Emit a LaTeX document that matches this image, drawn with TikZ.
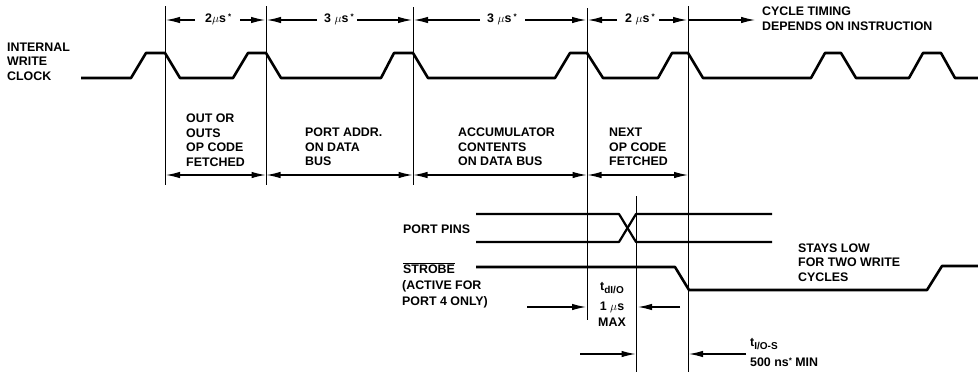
\documentclass[tikz,border=0pt]{standalone}
\usepackage{fontspec}
\setmainfont{Liberation Sans}
\usetikzlibrary{arrows.meta}
\tikzset{
 x=1pt,y=-1pt,
 wave/.style={line width=2.6pt,line join=round},
 vline/.style={line width=1pt},
 dim/.style={line width=1.1pt,-{Latex[length=14pt,width=6.5pt]}},
 dimb/.style={line width=1.1pt,{Latex[length=14pt,width=6.5pt]}-{Latex[length=14pt,width=6.5pt]}},
 lab/.style={font=\fontsize{12.4}{14.5}\selectfont\bfseries,anchor=west,align=left,inner sep=0pt},
}
\newcommand{\mus}{{\normalfont$\mu$}s}
\newcommand{\astr}{\raisebox{3pt}{\fontsize{8}{8}\selectfont *}}
\newcommand{\tsub}[1]{t\raisebox{-2.5pt}{\fontsize{10}{10}\selectfont #1}}
\begin{document}
\begin{tikzpicture}
\useasboundingbox (0,0) rectangle (978,372);
\coordinate (t1) at (165.5,6); \coordinate (b1) at (165.5,185);
\coordinate (t2) at (266,6); \coordinate (b2) at (266,185);
\coordinate (t3) at (413,7); \coordinate (b3) at (413,185);
\coordinate (t4) at (587,8); \coordinate (b4) at (587,320);
\coordinate (t5) at (688,6); \coordinate (b5) at (688,372);
\coordinate (t6) at (636,196); \coordinate (b6) at (636,372);
\foreach \i in {1,...,6} \draw[vline] (t\i) -- (b\i);
% clock
\draw[wave] (81,78) -- (131,78) -- (146,53) -- (165,53) -- (180,78) -- (233,78) -- (248,53) -- (266,53) -- (281,78) -- (381,78) -- (394,53) -- (413,53) -- (428,78) -- (555,78) -- (570,53) -- (587,53) -- (603,78) -- (658,78) -- (672,53) -- (688,53) -- (703,78) -- (811,78) -- (825,53) -- (841,53) -- (856,78) -- (909,78) -- (923,53) -- (941,53) -- (955,78) -- (978,78);
\node[lab] (int) at (7,61.5) {INTERNAL\\WRITE\\CLOCK};
% top dims
\node[lab] (a1) at (205,19.5) {2\mus\,\astr};
\node[lab] (a2) at (324,19.5) {3 \mus\,\astr};
\node[lab] (a3) at (487,19.5) {3 \mus\,\astr};
\node[lab] (a4) at (625,19.5) {2 \mus\,\astr};
\coordinate (l1) at (195,20); \coordinate (r1) at (240,20);
\coordinate (l2) at (317,20); \coordinate (r2) at (357,20);
\coordinate (l3) at (480,20); \coordinate (r3) at (525,20);
\coordinate (l4) at (617,20); \coordinate (r4) at (659,20);
\draw[dim] (l1) -- (166,20);
\draw[dim] (r1) -- (265,20);
\draw[dim] (l2) -- (267,20);
\draw[dim] (r2) -- (412,20);
\draw[dim] (l3) -- (414,20);
\draw[dim] (r3) -- (586,20);
\draw[dim] (l4) -- (588,20);
\draw[dim] (r4) -- (687,20);
\coordinate (ce) at (755,20);
\draw[dim] (688,20) -- (ce);
\node[lab] at (762,18.5) {CYCLE TIMING\\DEPENDS ON INSTRUCTION};
% middle
\draw[dimb] (166,175) -- (265.5,175);
\draw[dimb] (266.5,175) -- (412.5,175);
\draw[dimb] (413.5,175) -- (586.5,175);
\draw[dimb] (587.5,175) -- (688,175);
\node[lab,anchor=north west] at (186,114) {OUT OR\\OUTS\\OP CODE\\FETCHED};
\node[lab,anchor=north west] at (305,128) {PORT ADDR.\\ON DATA\\BUS};
\node[lab,anchor=north west] at (458,128) {ACCUMULATOR\\CONTENTS\\ON DATA BUS};
\node[lab,anchor=north west] at (609,128) {NEXT\\OP CODE\\FETCHED};
% ports
\draw[wave,line width=2.2pt] (476,214) -- (619,214) -- (636,242) -- (772,242);
\draw[wave,line width=2.2pt] (476,242) -- (619,242) -- (636,214) -- (772,214);
\draw[wave] (476,267) -- (675,267) -- (689,290) -- (927,290) -- (942,266) -- (978,266);
\node[lab] at (403,229) {PORT PINS};
\node[lab] at (403,268) {$\overline{\mbox{STROBE}}$};
\node[lab,anchor=north west] at (402,280) {(ACTIVE FOR\\[1.5pt]PORT 4 ONLY)};
\node[lab] at (798,262.5) {STAYS LOW\\FOR TWO WRITE\\CYCLES};
% t labels
\node[lab,anchor=center] at (612,288) {\tsub{dI/O}};
\node[lab,anchor=center] at (612,307) {1 \mus};
\node[lab,anchor=center] at (612,322) {MAX};
\coordinate (p1) at (527,307); \coordinate (p2) at (680,307);
\coordinate (p3) at (580,354); \coordinate (p4) at (746,354);
\draw[dim] (p1) -- (586,307);
\draw[dim] (p2) -- (638,307);
\draw[dim] (p3) -- (635.5,354);
\draw[dim] (p4) -- (689,354);
\node[lab] at (750,344) {\tsub{I/O-S}};
\node[lab] at (750,362) {500 ns\astr\ MIN};
\end{tikzpicture}
\end{document}
